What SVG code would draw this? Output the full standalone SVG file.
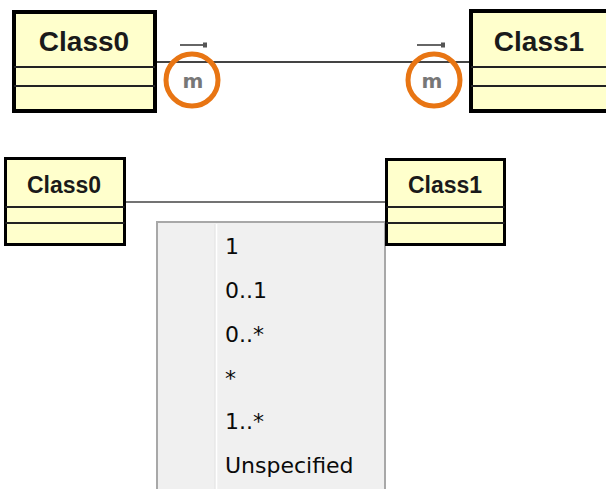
<svg xmlns="http://www.w3.org/2000/svg" width="606" height="489" viewBox="0 0 606 489">
  <style>
    .box { fill: #ffffcc; stroke: #000; }
    .div { stroke: #222; stroke-width: 2; }
    .title { font-family: "Liberation Sans", Arial, sans-serif; font-weight: bold; fill: #1a1a1a; text-anchor: middle; }
    .conn { stroke: #444; fill: none; }
    .ring { fill: none; stroke: #e87513; stroke-width: 5; }
    .m { font-family: "DejaVu Sans", sans-serif; font-weight: bold; font-size: 20px; fill: #777; text-anchor: middle; }
    .mark { stroke: #666; stroke-width: 2; }
    .item { font-family: "DejaVu Sans", Tahoma, sans-serif; font-size: 22px; fill: #0a0a0a; }
  </style>
  <rect width="606" height="489" fill="#fff"/>

  <g id="connectors">
    <line class="conn" x1="157" y1="62" x2="469" y2="62" stroke-width="2"/>
    <line class="conn" x1="126" y1="202" x2="386" y2="202" stroke-width="1.6"/>
  </g>

  <g id="class0-top">
    <rect class="box" x="14" y="12" width="141" height="99" stroke-width="4"/>
    <line class="div" x1="14" y1="67" x2="155" y2="67"/>
    <line class="div" x1="14" y1="86" x2="155" y2="86"/>
    <text class="title" x="84" y="51" font-size="28">Class0</text>
  </g>

  <g id="class1-top">
    <rect class="box" x="471" y="11" width="145" height="100" stroke-width="4"/>
    <line class="div" x1="471" y1="67" x2="606" y2="67"/>
    <line class="div" x1="471" y1="86" x2="606" y2="86"/>
    <text class="title" x="539" y="51" font-size="28">Class1</text>
  </g>

  <g id="multiplicity-left">
    <line class="mark" x1="180" y1="45" x2="205" y2="45"/>
    <rect x="203" y="42.5" width="4" height="5" fill="#555"/>
    <text class="m" x="193" y="88">m</text>
    <circle class="ring" cx="192" cy="80" r="26"/>
  </g>

  <g id="multiplicity-right">
    <line class="mark" x1="417" y1="45" x2="443" y2="45"/>
    <rect x="441" y="42.5" width="4" height="5" fill="#555"/>
    <text class="m" x="432" y="88">m</text>
    <circle class="ring" cx="434" cy="80" r="26"/>
  </g>

  <g id="class0-bottom">
    <rect class="box" x="5.5" y="158.5" width="119" height="86" stroke-width="3"/>
    <line class="div" x1="5.5" y1="207" x2="124.5" y2="207"/>
    <line class="div" x1="5.5" y1="223" x2="124.5" y2="223"/>
    <text class="title" x="64" y="193" font-size="23">Class0</text>
  </g>

  <g id="menu">
    <rect x="157" y="222" width="228" height="280" fill="#f0f0f0" stroke="#a8a8a8" stroke-width="2"/>
    <line x1="215" y1="224" x2="215" y2="489" stroke="#e2e2e2" stroke-width="1"/>
    <line x1="216.5" y1="224" x2="216.5" y2="489" stroke="#ffffff" stroke-width="1.5"/>
    <text class="item" x="225" y="254">1</text>
    <text class="item" x="225" y="298">0..1</text>
    <text class="item" x="225" y="342">0..*</text>
    <text class="item" x="225" y="386">*</text>
    <text class="item" x="225" y="429">1..*</text>
    <text class="item" x="225" y="473">Unspecified</text>
  </g>

  <g id="class1-bottom">
    <rect class="box" x="386.5" y="159.5" width="118" height="85" stroke-width="3"/>
    <line class="div" x1="386.5" y1="207" x2="504.5" y2="207"/>
    <line class="div" x1="386.5" y1="223" x2="504.5" y2="223"/>
    <text class="title" x="445" y="193" font-size="23">Class1</text>
  </g>
</svg>
